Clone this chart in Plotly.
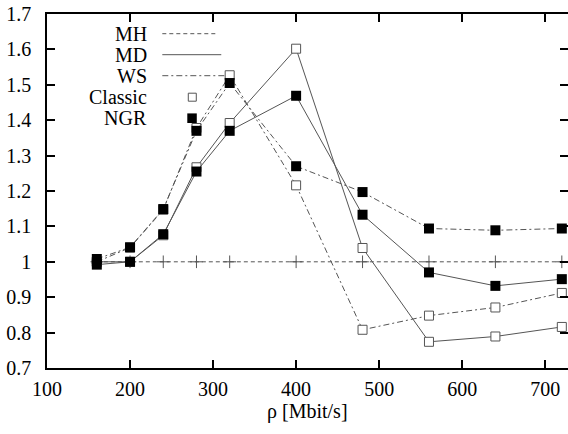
import plotly.graph_objects as go

# ---- data ----
rho = [160, 200, 240, 280, 320, 400, 480, 560, 640, 720]
mh = [1.0, 1.0, 1.0, 1.0, 1.0, 1.0, 1.0, 1.0, 1.0, 1.0]
md_classic = [1.0, 1.0, 1.075, 1.267, 1.392, 1.602, 1.039, 0.774, 0.789, 0.816]
md_ngr = [0.992, 1.0, 1.078, 1.255, 1.370, 1.469, 1.133, 0.970, 0.932, 0.951]
ws_classic = [1.0, 1.04, 1.147, 1.378, 1.527, 1.216, 0.808, 0.848, 0.871, 0.912]
ws_ngr = [1.008, 1.041, 1.149, 1.370, 1.505, 1.270, 1.197, 1.094, 1.089, 1.094]

x_ticks = [100, 200, 300, 400, 500, 600, 700]
y_ticks = [0.7, 0.8, 0.9, 1.0, 1.1, 1.2, 1.3, 1.4, 1.5, 1.6, 1.7]
y_tick_text = ["0.7", "0.8", "0.9", "1", "1.1", "1.2", "1.3", "1.4", "1.5", "1.6", "1.7"]
legend_labels = ["MH", "MD", "WS", "Classic", "NGR"]
x_title = "ρ [Mbit/s]"

LINE = "#555555"
FONT = "Liberation Serif, Times New Roman, serif"
FS = 20
MH_DASH = "4px,3px"
WS_DASH = "6px,3px,2px,3px"

fig = go.Figure()

fig.add_trace(go.Scatter(
    x=rho, y=mh, mode="lines+markers",
    line=dict(color=LINE, width=1, dash=MH_DASH),
    marker=dict(symbol="cross-thin", size=9, line=dict(color=LINE, width=1)),
    showlegend=False, cliponaxis=False))

open_marker = dict(symbol="square", size=9, color="white", line=dict(color=LINE, width=1))
fill_marker = dict(symbol="square", size=10, color="black", line=dict(color="black", width=0))

fig.add_trace(go.Scatter(x=rho, y=md_classic, mode="lines+markers", cliponaxis=False,
                         line=dict(color=LINE, width=1), marker=open_marker, showlegend=False))
fig.add_trace(go.Scatter(x=rho, y=ws_classic, mode="lines+markers", cliponaxis=False,
                         line=dict(color=LINE, width=1, dash=WS_DASH), marker=open_marker, showlegend=False))
fig.add_trace(go.Scatter(x=rho, y=md_ngr, mode="lines+markers", cliponaxis=False,
                         line=dict(color=LINE, width=1), marker=fill_marker, showlegend=False))
fig.add_trace(go.Scatter(x=rho, y=ws_ngr, mode="lines+markers", cliponaxis=False,
                         line=dict(color=LINE, width=1, dash=WS_DASH), marker=fill_marker, showlegend=False))

# ---- manual legend (text left, sample right) ----
L, R, T, B = 46.6, 568.0, 14.3, 368.3
def px(x):
    return (x - L) / (R - L)
def py(y):
    return (B - y) / (B - T)

leg_y = [34, 55, 76, 97.5, 118.5]
for lab, yy in zip(legend_labels, leg_y):
    fig.add_annotation(x=px(149), y=py(yy), xref="paper", yref="paper", text=lab,
                       showarrow=False, xanchor="right", yanchor="middle",
                       font=dict(family=FONT, size=FS, color="black"))
fig.add_shape(type="line", xref="paper", yref="paper", x0=px(162), x1=px(218), y0=py(leg_y[0]), y1=py(leg_y[0]),
              line=dict(color=LINE, width=1, dash=MH_DASH))
fig.add_shape(type="line", xref="paper", yref="paper", x0=px(162), x1=px(221), y0=py(leg_y[1]), y1=py(leg_y[1]),
              line=dict(color=LINE, width=1))
fig.add_shape(type="line", xref="paper", yref="paper", x0=px(162), x1=px(225), y0=py(leg_y[2]), y1=py(leg_y[2]),
              line=dict(color=LINE, width=1, dash=WS_DASH))
fig.add_shape(type="rect", xref="paper", yref="paper", x0=px(188), x1=px(196), y0=py(leg_y[3] - 4), y1=py(leg_y[3] + 4),
              line=dict(color=LINE, width=1), fillcolor="white")
fig.add_shape(type="rect", xref="paper", yref="paper", x0=px(187), x1=px(196.5), y0=py(leg_y[4] - 4.8), y1=py(leg_y[4] + 4.8),
              line=dict(color="black", width=0), fillcolor="black")

# x-axis title placed as text below the tick labels
fig.add_annotation(x=px(307), y=py(412), xref="paper", yref="paper", text=x_title,
                   showarrow=False, xanchor="center", yanchor="middle",
                   font=dict(family=FONT, size=FS, color="black"))

x_max = 100 + (R - L) / 0.831

fig.update_layout(
    width=568, height=434,
    margin=dict(l=L, r=0, t=T, b=434 - B, autoexpand=False),
    plot_bgcolor="white", paper_bgcolor="white",
    font=dict(family=FONT, size=FS, color="black"),
    xaxis=dict(range=[100, x_max], tickvals=x_ticks, ticks="inside", ticklen=8, tickwidth=1.5,
               tickcolor="black", showline=True, linecolor="black", linewidth=1.5, mirror="ticks",
               showgrid=False, zeroline=False, automargin=False, ticklabelstandoff=2,
               tickfont=dict(family=FONT, size=FS)),
    yaxis=dict(range=[0.7, 1.7], tickvals=y_ticks, ticktext=y_tick_text, ticks="inside", ticklen=8,
               tickwidth=1.5, tickcolor="black", showline=True, linecolor="black", linewidth=1.5,
               mirror="ticks", showgrid=False, zeroline=False, ticklabelstandoff=10, automargin=False,
               tickfont=dict(family=FONT, size=FS)),
)

fig.write_html("out.html", config={"displayModeBar": False},
               post_script="document.body.style.margin='0';document.body.style.overflow='hidden';")
